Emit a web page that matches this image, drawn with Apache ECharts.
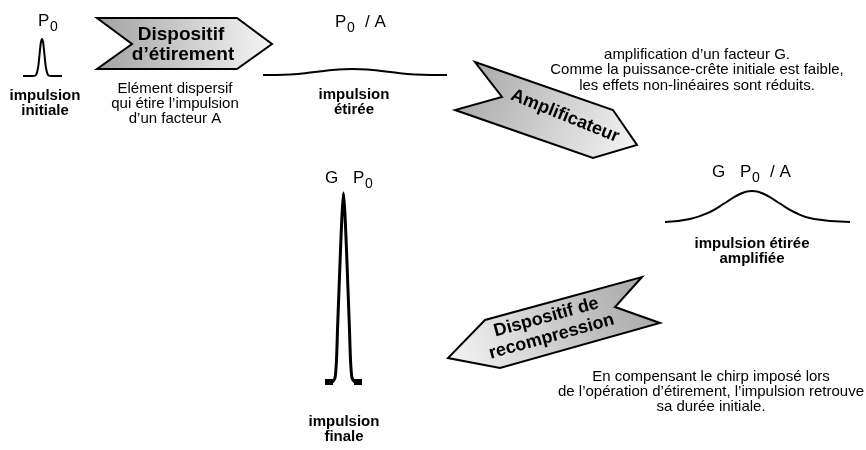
<!DOCTYPE html>
<html>
<head>
<meta charset="utf-8">
<title>Amplification à dérive de fréquence</title>
<script src="https://cdn.jsdelivr.net/npm/echarts@6/dist/echarts.min.js"></script>
<style>
  html, body { margin: 0; padding: 0; background: #fff; }
  #chart { width: 866px; height: 450px; }
</style>
</head>
<body>
<div id="chart"></div>
<script>
// profils des impulsions (x, y en repère image)
var pulseInitiale = [[23, 76], [33, 76], [36, 75], [38, 68], [39.5, 55], [40.8, 43], [42, 39], [43.2, 43], [44.5, 55], [46, 68], [48, 75], [51, 76], [62, 76]]
var pulseEtiree = [[263, 75], [290, 74.5], [315, 72], [335, 69.8], [352, 69], [370, 69.8], [390, 72], [415, 74.5], [447, 75]]
var pulseAmplifiee = [[665, 222], [690, 219], [710, 212], [725, 203], [740, 194], [752, 191], [764, 194], [779, 203], [794, 212], [814, 219], [850, 222]]
var pulseFinale = [[325, 382], [332, 382], [335, 378], [336.5, 360], [337.5, 330], [339, 290], [340.5, 250], [342, 215], [343.5, 193],
  [345, 215], [346.5, 250], [348, 290], [349.5, 330], [350.5, 360], [352, 378], [355, 382], [362, 382]]
var piedsFinale = [[325, 382], [333, 382], null, [354, 382], [362, 382]]

// contours des trois flèches
var arrowEtirement = [[97, 18], [237, 18], [272, 44], [237, 69], [97, 69], [132, 44]]
var arrowAmpli = [[475, 62], [613, 110], [637, 145], [593, 158], [455, 110], [502, 97]]
var arrowCompression = [[642, 277], [615, 307], [660, 323], [500, 368], [448, 358], [485, 320]]

var arrows = [arrowEtirement, arrowAmpli, arrowCompression]

var chart = echarts.init(document.getElementById('chart'))

var FONT = '"Liberation Sans", Arial, sans-serif'

function txt (x, y, text, size, bold, opts) {
  opts = opts || {}
  return {
    type: 'text',
    x: x,
    y: y,
    z: 100,
    rotation: opts.rot || 0,
    silent: true,
    style: {
      text: text,
      fill: '#000',
      font: (bold ? 'bold ' : '') + size + 'px ' + FONT,
      align: opts.align || 'center',
      verticalAlign: 'middle',
      lineHeight: opts.lh || size
    }
  }
}

// "P0" avec indice, éventuellement précédé de G et suivi de / A
function puissance (x, y, avant, apres) {
  var out = []
  if (avant) out.push(txt(x - 28, y, avant, 17, false, { align: 'left' }))
  out.push(txt(x, y, 'P', 17, false, { align: 'left' }))
  out.push(txt(x + 12, y + 6, '0', 14, false, { align: 'left' }))
  if (apres) out.push(txt(x + 30, y, apres, 17, false, { align: 'left' }))
  return out
}

var textes = [].concat(
  puissance(38, 21),
  puissance(335, 22, null, '/ A'),
  puissance(740, 172, 'G', '/ A'),
  puissance(353, 178, 'G'),
  [
    txt(181, 35, 'Dispositif', 19, true),
    txt(183, 55, 'd\u2019étirement', 19, true),
    txt(45, 103, 'impulsion\ninitiale', 15, true, { lh: 15 }),
    txt(175, 104, 'Elément dispersif\nqui étire l\u2019impulsion\nd\u2019un facteur A', 15, false, { lh: 15 }),
    txt(354, 102, 'impulsion\nétirée', 15, true, { lh: 15 }),
    txt(697, 70, 'amplification d\u2019un facteur G.\nComme la puissance-crête initiale est faible,\nles effets non-linéaires sont réduits.', 15, false, { lh: 15.5 }),
    txt(565, 116, 'Amplificateur', 18, true, { rot: -22 * Math.PI / 180 }),
    txt(752, 251, 'impulsion étirée\namplifiée', 15, true, { lh: 15 }),
    txt(549, 327, 'Dispositif de\nrecompression', 18, true, { rot: 15.5 * Math.PI / 180, lh: 20 }),
    txt(711, 392, 'En compensant le chirp imposé lors\nde l\u2019opération d\u2019étirement, l\u2019impulsion retrouve\nsa durée initiale.', 15, false, { lh: 15 }),
    txt(344, 429, 'impulsion\nfinale', 15, true, { lh: 15 })
  ]
)

// dégradés : queue de flèche foncée, pointe claire
var degrades = [
  [0, 0, 1, 0],
  [0, 0, 1, 1],
  [1, 0, 0, 1]
]

function ligne (data, width, smooth) {
  return {
    type: 'line',
    data: data,
    smooth: smooth,
    showSymbol: false,
    silent: true,
    lineStyle: { color: '#000', width: width, join: 'round' }
  }
}

var option = {
  animation: false,
  backgroundColor: '#fff',
  grid: { left: 0, right: 0, top: 0, bottom: 0 },
  xAxis: { type: 'value', min: 0, max: 866, show: false },
  yAxis: { type: 'value', min: 0, max: 450, inverse: true, show: false },
  series: [
    {
      type: 'custom',
      silent: true,
      data: arrows.map(function (a, i) { return [i, 0] }),
      renderItem: function (params, api) {
        var pts = arrows[params.dataIndex].map(function (p) { return api.coord(p) })
        var g = degrades[params.dataIndex]
        return {
          type: 'polygon',
          shape: { points: pts },
          style: {
            fill: new echarts.graphic.LinearGradient(g[0], g[1], g[2], g[3], [
              { offset: 0, color: '#a2a2a2' },
              { offset: 1, color: '#f6f6f6' }
            ]),
            stroke: '#000',
            lineWidth: 2,
            lineJoin: 'miter'
          }
        }
      }
    },
    ligne(pulseInitiale, 2, 0.3),
    ligne(pulseEtiree, 2, 0.5),
    ligne(pulseAmplifiee, 2, 0.5),
    ligne(pulseFinale, 3, 0.2),
    {
      type: 'line',
      data: piedsFinale,
      showSymbol: false,
      silent: true,
      lineStyle: { color: '#000', width: 6 }
    }
  ],
  graphic: textes
}

chart.setOption(option)
</script>
</body>
</html>
